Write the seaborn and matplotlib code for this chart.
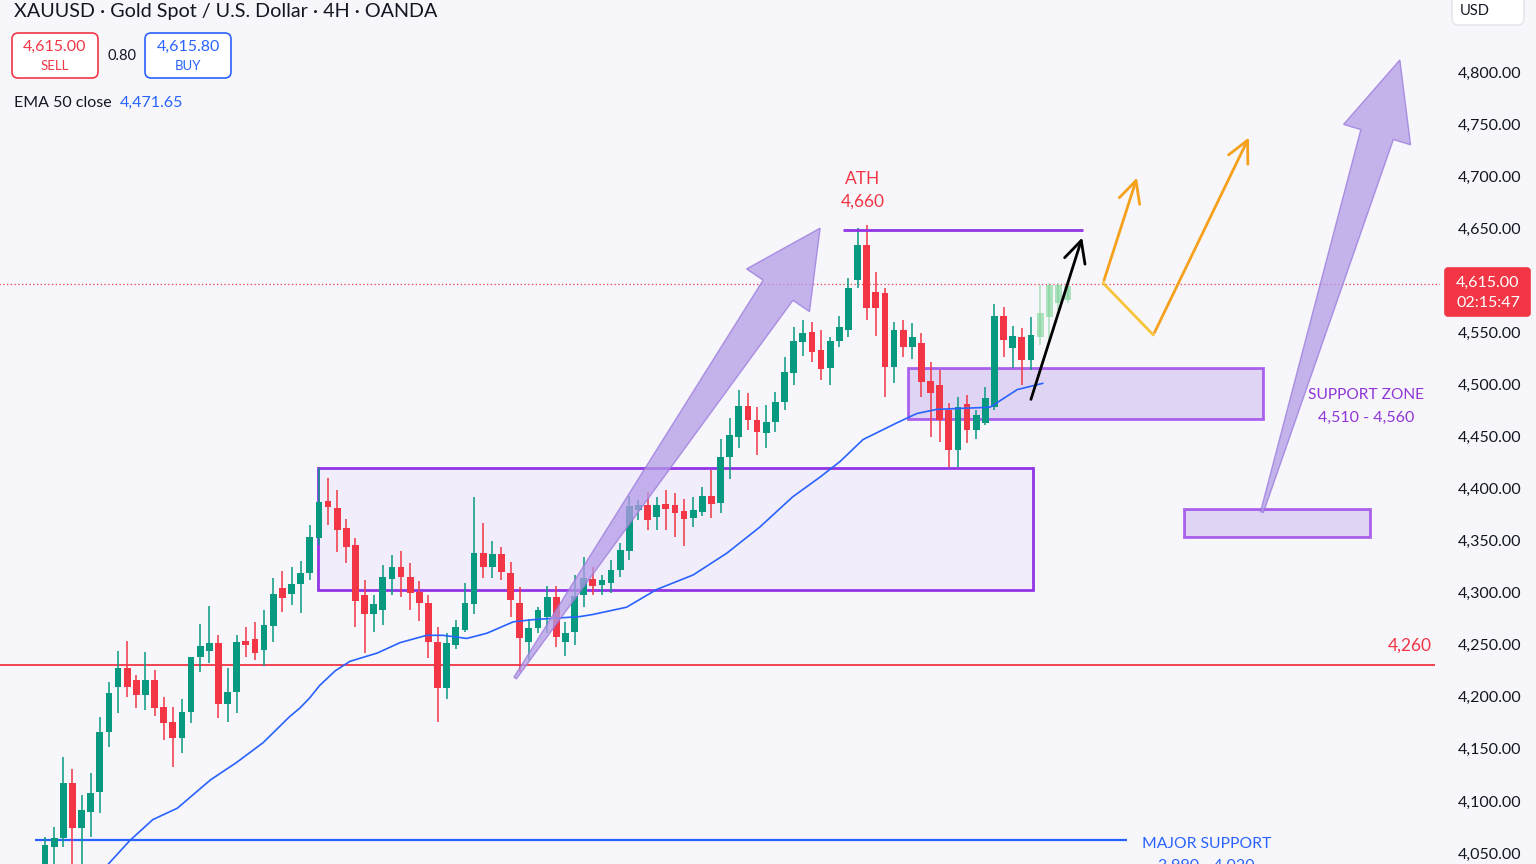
import numpy as np
import matplotlib
matplotlib.use("Agg")
import matplotlib.pyplot as plt
from matplotlib.patches import Rectangle, FancyBboxPatch, Polygon
import seaborn as sns

# ---- candle data (4H) ----
opens = [4034, 4056, 4064, 4117, 4074, 4089, 4109, 4166, 4209, 4228,
         4216, 4202, 4216, 4190, 4176, 4160, 4185, 4238, 4244, 4252,
         4193, 4205, 4254, 4255, 4245, 4268, 4304, 4299, 4308, 4319,
         4352, 4388, 4381, 4362, 4346, 4298, 4279, 4283, 4313, 4325,
         4315, 4301, 4290, 4253, 4208, 4250, 4264, 4289, 4338, 4325,
         4337, 4319, 4290, 4253, 4266, 4277, 4296, 4253, 4262, 4298,
         4313, 4307, 4309, 4322, 4340, 4379, 4384, 4373, 4385, 4384,
         4378, 4372, 4377, 4393, 4386, 4430, 4449, 4479, 4466, 4453,
         4464, 4483, 4511, 4541, 4550, 4533, 4516, 4542, 4552, 4600,
         4634, 4589, 4588, 4517, 4552, 4536, 4540, 4503, 4499, 4475,
         4437, 4481, 4456, 4463, 4478, 4566, 4535, 4545, 4523, 4545,
         4565, 4578, 4581]
highs = [4065, 4075, 4142, 4131, 4106, 4127, 4181, 4214, 4244, 4254,
         4221, 4243, 4226, 4200, 4190, 4198, 4238, 4270, 4287, 4259,
         4228, 4259, 4267, 4272, 4283, 4314, 4321, 4325, 4330, 4365,
         4420, 4410, 4399, 4371, 4352, 4312, 4298, 4327, 4336, 4340,
         4328, 4311, 4298, 4267, 4261, 4274, 4309, 4392, 4367, 4350,
         4344, 4329, 4305, 4275, 4286, 4306, 4306, 4272, 4317, 4334,
         4325, 4317, 4331, 4348, 4393, 4389, 4397, 4392, 4399, 4396,
         4390, 4392, 4401, 4418, 4448, 4468, 4495, 4492, 4478, 4480,
         4493, 4526, 4555, 4562, 4560, 4552, 4545, 4566, 4602, 4650,
         4653, 4608, 4593, 4560, 4562, 4559, 4549, 4521, 4514, 4482,
         4488, 4490, 4475, 4497, 4577, 4574, 4556, 4554, 4565, 4595,
         4597, 4597, 4597]
lows = [4019, 4030, 4056, 4024, 4035, 4065, 4088, 4152, 4184, 4200,
        4189, 4187, 4182, 4158, 4133, 4146, 4175, 4224, 4232, 4180,
        4176, 4184, 4238, 4235, 4230, 4253, 4281, 4288, 4280, 4312,
        4346, 4365, 4339, 4328, 4267, 4242, 4262, 4269, 4298, 4296,
        4283, 4273, 4237, 4176, 4198, 4246, 4262, 4279, 4314, 4314,
        4312, 4277, 4224, 4235, 4261, 4261, 4248, 4239, 4250, 4286,
        4298, 4298, 4300, 4315, 4331, 4370, 4360, 4360, 4360, 4353,
        4345, 4363, 4374, 4372, 4376, 4409, 4439, 4456, 4432, 4439,
        4454, 4475, 4499, 4527, 4521, 4504, 4499, 4536, 4545, 4593,
        4562, 4546, 4488, 4501, 4526, 4524, 4488, 4449, 4445, 4421,
        4421, 4444, 4448, 4461, 4475, 4526, 4516, 4499, 4514, 4538,
        4543, 4571, 4578]
closes = [4058, 4064, 4117, 4074, 4091, 4108, 4166, 4204, 4228, 4209,
          4202, 4216, 4189, 4175, 4160, 4185, 4238, 4249, 4252, 4193,
          4205, 4253, 4250, 4242, 4269, 4299, 4295, 4308, 4319, 4353,
          4387, 4382, 4360, 4344, 4292, 4279, 4289, 4315, 4325, 4315,
          4300, 4290, 4253, 4208, 4252, 4267, 4290, 4338, 4325, 4337,
          4320, 4293, 4256, 4266, 4283, 4296, 4257, 4261, 4297, 4314,
          4306, 4312, 4322, 4341, 4383, 4384, 4370, 4384, 4380, 4376,
          4371, 4379, 4393, 4385, 4430, 4451, 4479, 4466, 4454, 4464,
          4483, 4512, 4542, 4549, 4531, 4515, 4542, 4555, 4593, 4634,
          4573, 4573, 4517, 4552, 4536, 4545, 4502, 4492, 4466, 4437,
          4478, 4456, 4471, 4487, 4566, 4543, 4546, 4523, 4547, 4569,
          4595, 4595, 4594]
n_faded = 4  # last projected candles drawn faded

# EMA 50 (close) read at a few bars
ema_idx = [5.0, 6.9, 9.3, 11.8, 14.5, 18.1, 21.0, 23.9, 26.8, 27.9, 29.0,
           30.1, 31.8, 33.4, 36.4, 38.9, 41.8, 43.6, 46.2, 48.4, 51.3,
           53.4, 58.6, 60.0, 63.7, 67.0, 71.0, 74.7, 78.3, 81.9, 84.9,
           87.1, 89.6, 93.3, 95.5, 97.7, 100.5, 103.5, 106.5, 109.3]
ema_val = [4022, 4039, 4062, 4082, 4093, 4120, 4137, 4156, 4181, 4189, 4199,
           4211, 4225, 4234, 4242, 4252, 4259, 4259, 4256, 4261, 4272,
           4274, 4277, 4279, 4286, 4303, 4317, 4338, 4363, 4392, 4411,
           4426, 4447, 4463, 4472, 4476, 4477, 4478, 4495, 4501]

price_ticks = [4050, 4100, 4150, 4200, 4250, 4300, 4350, 4400, 4450,
               4500, 4550, 4650, 4700, 4750, 4800]

# colours
BG = "#f6f6fb"
GREEN = "#089981"
RED = "#f23645"
FADED = "#6fd08a"
BLUE = "#2962ff"
PURPLE = "#9334e6"
LAV = "#d9c9f3"
TXT = "#131722"

W, H = 1536, 864

sns.set_theme(style="white")
plt.rcParams["font.family"] = ["Lato", "DejaVu Sans"]

fig = plt.figure(figsize=(W / 100, H / 100), dpi=100, facecolor=BG)
ax = fig.add_axes([0, 0, 1440 / W, 1])
ax.set_facecolor(BG)
ax.set_xlim(-4.93, 152.8)
ax.set_ylim(4039.4, 4869.1)
for s in ax.spines.values():
    s.set_visible(False)
ax.set_xticks([])

# ---- candles ----
n = len(opens)
for i in range(n):
    o, h, l, c = opens[i], highs[i], lows[i], closes[i]
    faded = i >= n - n_faded
    col = FADED if faded else (GREEN if c >= o else RED)
    a = 0.55 if faded else 1.0
    ax.vlines(i, l, h, color=col, lw=1.1, alpha=a, zorder=3)
    ax.bar(i, max(abs(c - o), 0.8), bottom=min(o, c), width=0.74,
           color=col, alpha=a, lw=0, zorder=3)

# EMA
sns.lineplot(x=ema_idx, y=ema_val, ax=ax, color=BLUE, lw=1.2, zorder=4)

# ---- levels ----
ax.hlines(4596.4, -5, 153, color=RED, lw=0.9, ls=(0, (1, 2)), zorder=2)
ax.hlines(4230.5, -4.93, 152.2, color=RED, lw=1.3, zorder=2)
ax.hlines(4062.5, -1.1, 118.5, color=BLUE, lw=1.6, zorder=2)
ax.hlines(4648.2, 87.4, 113.7, color=PURPLE, lw=2, zorder=5)

# ---- zones ----
ax.add_patch(Rectangle((29.9, 4302.5), 108.2 - 29.9, 4419.7 - 4302.5,
                       fc="#f1edfa", ec=PURPLE, lw=2, zorder=1))
ax.add_patch(Rectangle((94.5, 4466.7), 133.4 - 94.5, 4515.7 - 4466.7,
                       fc=LAV, ec=PURPLE, lw=2, alpha=0.75, zorder=2))
ax.add_patch(Rectangle((124.8, 4353.4), 145.1 - 124.8, 4380.3 - 4353.4,
                       fc=LAV, ec=PURPLE, lw=2, alpha=0.75, zorder=2))


def fat_arrow(tail, tip, tail_w, shaft_w, head_w, head_len, **kw):
    t = ax.transData
    p0 = np.array(t.transform(tail))
    p1 = np.array(t.transform(tip))
    d = p1 - p0
    u = d / np.hypot(*d)
    nv = np.array([-u[1], u[0]])
    base = p1 - u * head_len
    pts = [p0 + nv * tail_w / 2, base + nv * shaft_w / 2, base + nv * head_w / 2,
           p1, base - nv * head_w / 2, base - nv * shaft_w / 2, p0 - nv * tail_w / 2]
    ax.add_patch(Polygon(t.inverted().transform(pts), closed=True, **kw))


fat_arrow((51.5, 4218), (84.9, 4650), 3, 36, 76, 75,
          fc="#b49be6", ec="#9a78dd", lw=1, alpha=0.75, zorder=6)
fat_arrow((133.3, 4377.4), (148.4, 4811.5), 3, 34, 70, 78,
          fc="#b49be6", ec="#9a78dd", lw=1, alpha=0.75, zorder=6)

# projection arrows
ax.annotate("", xy=(113.7, 4643.5), xytext=(107.9, 4483),
            arrowprops=dict(arrowstyle="->,head_length=1.1,head_width=0.55",
                            color="black", lw=2, mutation_scale=14), zorder=7)
ax.annotate("", xy=(119.7, 4701), xytext=(115.9, 4597.3),
            arrowprops=dict(arrowstyle="->,head_length=1.1,head_width=0.55",
                            color="#f5a11c", lw=2, mutation_scale=14), zorder=7)
ax.plot([115.9, 121.4], [4597.3, 4547.4], color="#f7c43a", lw=2, zorder=7)
ax.annotate("", xy=(132.0, 4739.5), xytext=(121.4, 4547.4),
            arrowprops=dict(arrowstyle="->,head_length=1.1,head_width=0.55",
                            color="#f5a11c", lw=2, mutation_scale=14), zorder=7)

# ---- labels on chart ----
ax.text(89.6, 4697.2, "ATH", color=RED, fontsize=12.5, ha="center", va="center", zorder=8)
ax.text(89.6, 4675.1, "4,660", color=RED, fontsize=12.5, ha="center", va="center", zorder=8)
ax.text(144.7, 4489.8, "SUPPORT ZONE", color="#9036d6", fontsize=11.2, ha="center", va="center", zorder=8)
ax.text(144.7, 4467.7, "4,510 - 4,560", color="#9036d6", fontsize=11.5, ha="center", va="center", zorder=8)
ax.text(149.5, 4248.7, "4,260", color=RED, fontsize=12.5, ha="center", va="center", zorder=8)
ax.text(127.2, 4058.6, "MAJOR SUPPORT", color=BLUE, fontsize=11.3, ha="center", va="center", zorder=8)
ax.text(127.2, 4037.6, "3,990 - 4,020", color=BLUE, fontsize=11.5, ha="center", va="center",
        zorder=8, clip_on=True)

# ---- price axis ----
ax.yaxis.tick_right()
ax.set_yticks(price_ticks)
ax.set_yticklabels([f"{v:,.2f}" for v in price_ticks])
ax.tick_params(axis="y", length=0, pad=13, labelsize=11.5, labelcolor=TXT)


def fx(x):
    return x / W


def fy(y):
    return 1 - y / H


def pbox(x0, y0, x1, y1, fc, ec, lw=1.2, r=0.004):
    fig.add_artist(FancyBboxPatch((fx(x0), fy(y1)), fx(x1) - fx(x0), (y1 - y0) / H,
                                  boxstyle=f"round,pad=0,rounding_size={r}",
                                  mutation_aspect=W / H, transform=fig.transFigure,
                                  fc=fc, ec=ec, lw=lw, zorder=10))


# last price tag
pbox(1445, 268, 1530, 316, RED, RED, r=0.002)
fig.text(fx(1488), fy(283), "4,615.00", color="white", fontsize=11.5, ha="center", va="center", zorder=11)
fig.text(fx(1488), fy(303), "02:15:47", color="white", fontsize=11.5, ha="center", va="center", zorder=11)

# currency box
pbox(1452, -6, 1524, 25, "white", "#e0e3eb", lw=1)
fig.text(fx(1460), fy(11), "USD", color=TXT, fontsize=10.5, ha="left", va="center", zorder=11)

# ---- header ----
fig.text(fx(14), fy(12), "XAUUSD · Gold Spot / U.S. Dollar · 4H · OANDA", color=TXT,
         fontsize=14.2, ha="left", va="center")
pbox(12, 33, 98, 78, "white", RED)
fig.text(fx(55), fy(47), "4,615.00", color=RED, fontsize=11.5, ha="center", va="center", zorder=11)
fig.text(fx(55), fy(66), "SELL", color=RED, fontsize=9.5, ha="center", va="center", zorder=11)
fig.text(fx(122), fy(56), "0.80", color=TXT, fontsize=10.5, ha="center", va="center")
pbox(145, 33, 231, 78, "white", BLUE)
fig.text(fx(188), fy(47), "4,615.80", color=BLUE, fontsize=11.5, ha="center", va="center", zorder=11)
fig.text(fx(188), fy(66), "BUY", color=BLUE, fontsize=9.5, ha="center", va="center", zorder=11)
fig.text(fx(14), fy(103), "EMA 50 close", color=TXT, fontsize=11.5, ha="left", va="center")
fig.text(fx(120), fy(103), "4,471.65", color=BLUE, fontsize=11.5, ha="left", va="center")

fig.savefig("out.png", dpi=100, facecolor=BG)
